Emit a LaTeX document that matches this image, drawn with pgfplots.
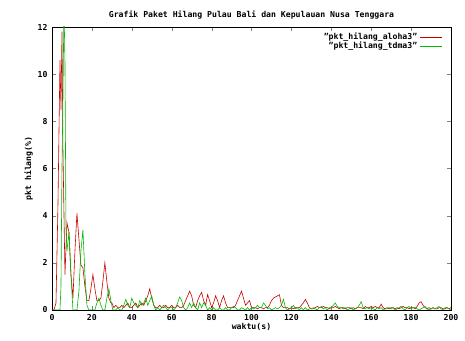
\documentclass[border=0pt]{standalone}
\usepackage{pgfplots}
\pgfplotsset{compat=1.18}
\usepackage{fontspec}
\setmainfont{DejaVu Sans Mono}
\definecolor{gpred}{RGB}{200,0,0}
\definecolor{gpgreen}{RGB}{0,185,0}
\newcommand{\q}{\char34\relax}
\begin{document}
\begin{tikzpicture}
\begin{axis}[name=ax,
  scale only axis, width=399bp, height=283bp,
  xmin=0, xmax=200, ymin=0, ymax=12,
  xtick={0,20,...,200}, ytick={0,2,...,12},
  tick align=inside, major tick length=4bp,
  /pgf/number format/assume math mode=true,
  ticklabel style={font=\fontsize{8.2}{9}\selectfont\bfseries},
  xticklabel style={yshift=-1bp},
  yticklabel style={xshift=-1bp},
  title={Grafik Paket Hilang Pulau Bali dan Kepulauan Nusa Tenggara},
  title style={font=\fontsize{8.2}{9}\selectfont\bfseries, yshift=-2bp},
  xlabel={waktu(s)}, ylabel={pkt hilang(\%)},
  label style={font=\fontsize{8.2}{9}\selectfont\bfseries},
  xlabel style={yshift=4bp},
  ylabel style={yshift=-2bp},
  axis line style={black, line width=0.6pt},
  legend style={at={(1,1)}, anchor=north east, xshift=-8bp, yshift=-3bp, draw=none, fill=none,
    font=\fontsize{8.2}{9}\selectfont\bfseries, inner sep=1pt, row sep=-3pt},
  legend cell align=right, legend plot pos=right,
  legend image code/.code={\draw[#1] (0bp,0bp) -- (22bp,0bp);},
  every axis plot/.append style={line width=0.6pt},
  clip=true,
]
\addplot[gpred] coordinates {
(0,0) (1,0) (2,0.3) (3,4.5) (4,10.6) (4.5,8.5) (5,11.8) (5.5,6.7) (6.5,1.5) (7.5,3.7) (8.5,3.3) (9.5,1.5) (10.5,0.5) (11.5,2.5) (12.5,4.1) (13.5,3.0) (14.5,1.9) (15.5,1.8) (16.5,1.0) (17.5,0.4) (18.5,0.4) (19.5,0.9) (20.5,1.5) (21.5,0.9) (22.5,0.4) (23.5,0.4) (24.5,0.5) (25.5,1.2) (26.5,2.0) (27.5,1.2) (28.5,0.5) (29.5,0.3)
(30,0.3) (31,0.1) (32,0.2) (33,0.1) (34,0.1) (35,0.2) (36,0.1) (37,0.2) (38,0.3) (39,0.1) (40,0.1) (41,0.2) (42,0.3) (43,0.1) (44,0.2) (45,0.3) (46,0.2) (47,0.4) (48,0.6) (49,0.9) (50,0.5) (51,0.2) (52,0.1) (53,0.1) (54,0.2) (55,0.1) (56,0.1) (57,0.2) (58,0.1) (59,0.1) (60,0.2) (61,0.1) (62,0.1) (63,0.2) (64,0.1) (65,0.1) (66,0.2) (67,0.4) (68,0.6) (69,0.8) (70,0.6) (71,0.2) (72,0.1) (73,0.4) (74,0.6) (75,0.75) (76,0.4) (77,0.2) (78,0.65) (79,0.4) (80,0.1) (81,0.3) (82,0.6) (83,0.4) (84,0.1) (85,0.4) (86,0.6) (87,0.3) (88,0.1) (89,0.1) (90,0.1) (91,0.1) (92,0.2) (93,0.4) (94,0.6) (95,0.8) (96,0.5) (97,0.2) (98,0.3) (99,0.4) (100,0.1)
(101,0.1) (102,0.1) (103,0.05) (104,0.1) (105,0.1) (106,0.05) (107,0.1) (108,0.1) (109,0.2) (110,0.4) (111,0.5) (112,0.55) (113,0.6) (114,0.65) (115,0.2) (116,0.1) (117,0.1) (118,0.1) (119,0.05) (120,0.1) (121,0.05) (122,0.1) (123,0.1) (124,0.1) (125,0.2) (126,0.3) (127,0.45) (128,0.3) (129,0.1) (130,0.05) (131,0.05) (132,0.1) (133,0.15) (134,0.1) (135,0.1) (136,0.15) (137,0.1) (138,0.1) (139,0.05) (140,0.1) (141,0.1) (142,0.15) (143,0.1) (144,0.05) (145,0.1) (146,0.1) (147,0.05) (148,0.1) (149,0.1) (150,0.05)
(151,0.1) (152,0.05) (153,0.1) (154,0.1) (155,0.1) (156,0.05) (157,0.15) (158,0.1) (159,0.1) (160,0.15) (161,0.1) (162,0.15) (163,0.1) (164,0.1) (165,0.25) (166,0.1) (167,0.05) (168,0.1) (169,0.05) (170,0.1) (171,0.1) (172,0.05) (173,0.1) (174,0.05) (175,0.1) (176,0.15) (177,0.1) (178,0.1) (179,0.05) (180,0.1) (181,0.1) (182,0.05) (183,0.15) (184,0.3) (185,0.35) (186,0.2) (187,0.1) (188,0.05) (189,0.1) (190,0.05) (191,0.1) (192,0.05) (193,0.05) (194,0.1) (195,0.1) (196,0.05) (197,0.05) (198,0.1) (199,0.05) (200,0.1)
};
\addlegendentry{\q pkt\_hilang\_aloha3\q}
\addplot[gpgreen] coordinates {
(0,0) (1,0) (2,0) (3,0) (4,0) (4.5,1) (5,6) (5.5,9) (6,13) (6.5,10.5) (7,3.5) (7.5,2.5) (8.5,3.3) (9.5,1.5) (10.5,0) (11.5,0) (12.5,0) (13.5,0.8) (14.5,2.5) (15.5,3.4) (16.5,1.5) (17.5,0.2) (18.5,0) (19.5,0) (20.5,0) (21.5,0) (22.5,0.3) (23.5,0.5) (24.5,0.2) (25.5,0) (26.5,0) (27.5,0.5) (28.5,0.9) (29.5,0.4) (30.5,0)
(31,0) (32,0) (33,0.1) (34,0) (35,0) (36,0.2) (37,0.45) (38,0.2) (39,0.1) (40,0.5) (41,0.3) (42,0.2) (43,0.1) (44,0.4) (45,0.2) (46,0.3) (47,0.5) (48,0.2) (49,0.4) (50,0.6) (51,0.2) (52,0) (53,0.1) (54,0) (55,0.1) (56,0.2) (57,0.1) (58,0) (59,0.1) (60,0.1) (61,0) (62,0.1) (63,0.3) (64,0.55) (65,0.4) (66,0.1) (67,0) (68,0.1) (69,0.3) (70,0.1) (71,0.3) (72,0.1) (73,0) (74,0.3) (75,0.1) (76,0.3) (77,0.2) (78,0) (79,0.1) (80,0) (81,0.1) (82,0) (83,0) (84,0.1) (85,0) (86,0) (87,0.1) (88,0) (89,0) (90,0.1) (91,0.15) (92,0.1) (93,0) (94,0) (95,0.1) (96,0.05) (97,0) (98,0.1) (99,0) (100,0.1)
(101,0.05) (102,0.1) (103,0.2) (104,0.1) (105,0.1) (106,0.3) (107,0.2) (108,0.05) (109,0.1) (110,0) (111,0.05) (112,0.1) (113,0.05) (114,0.1) (115,0.2) (116,0.45) (117,0.1) (118,0) (119,0.05) (120,0.1) (121,0.2) (122,0.05) (123,0.1) (124,0) (125,0.1) (126,0) (127,0.1) (128,0) (129,0.05) (130,0.05) (131,0.1) (132,0.05) (133,0) (134,0.1) (135,0.15) (136,0.05) (137,0.1) (138,0) (139,0.1) (140,0.1) (141,0.2) (142,0.3) (143,0.15) (144,0.1) (145,0.1) (146,0.05) (147,0.1) (148,0) (149,0.05) (150,0.1)
(151,0) (152,0.05) (153,0.1) (154,0.2) (155,0.35) (156,0.1) (157,0.05) (158,0.1) (159,0.05) (160,0.1) (161,0.05) (162,0) (163,0.1) (164,0.05) (165,0.1) (166,0) (167,0.05) (168,0.05) (169,0.1) (170,0.05) (171,0.1) (172,0) (173,0.05) (174,0.1) (175,0.15) (176,0.05) (177,0) (178,0.1) (179,0.15) (180,0.05) (181,0.1) (182,0.1) (183,0.05) (184,0) (185,0.05) (186,0.1) (187,0.15) (188,0.05) (189,0) (190,0.05) (191,0.1) (192,0.05) (193,0.1) (194,0.15) (195,0.05) (196,0) (197,0.1) (198,0.1) (199,0.05) (200,0)
};
\addlegendentry{\q pkt\_hilang\_tdma3\q}
\end{axis}
\pgfresetboundingbox
\path[use as bounding box] ([xshift=-52bp,yshift=-31bp]ax.south west) rectangle ([xshift=14bp,yshift=27bp]ax.north east);
\end{tikzpicture}
\end{document}
